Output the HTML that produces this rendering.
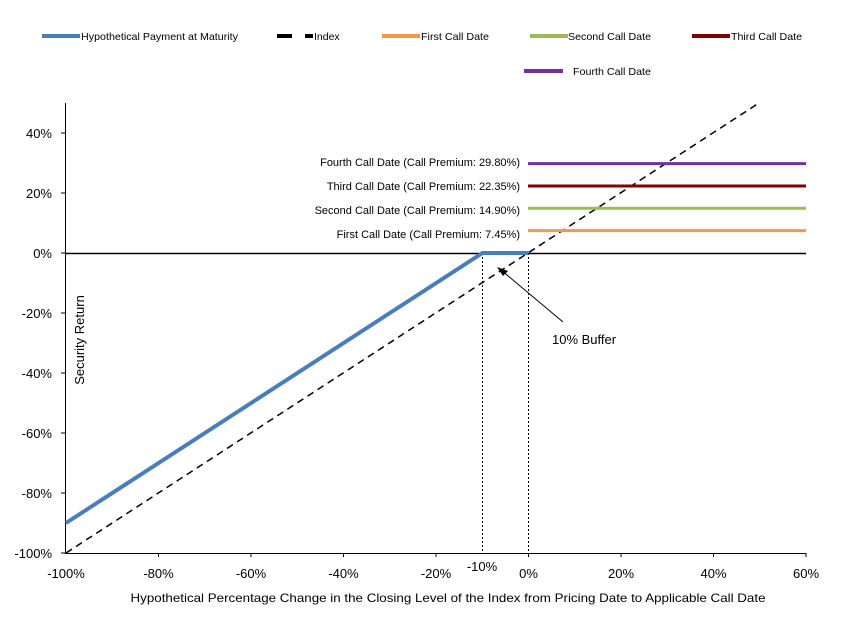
<!DOCTYPE html>
<html><head><meta charset="utf-8"><style>html,body{margin:0;padding:0;background:#fff}svg{display:block}</style></head>
<body>
<svg width="845" height="623" viewBox="0 0 845 623" xmlns="http://www.w3.org/2000/svg" font-family="Liberation Sans, Arial, sans-serif">
<!-- legend -->
<g font-size="10.5" fill="#000">
<line x1="42" y1="36" x2="80" y2="36" stroke="#4a7ebb" stroke-width="4"/>
<text x="81" y="40" textLength="157" lengthAdjust="spacingAndGlyphs">Hypothetical Payment at Maturity</text>
<line x1="277" y1="36" x2="292" y2="36" stroke="#000" stroke-width="4"/>
<line x1="305" y1="36" x2="313" y2="36" stroke="#000" stroke-width="4"/>
<text x="314" y="40">Index</text>
<line x1="382" y1="36" x2="420" y2="36" stroke="#f79646" stroke-width="4"/>
<text x="421" y="40" textLength="68" lengthAdjust="spacingAndGlyphs">First Call Date</text>
<line x1="530" y1="36" x2="568" y2="36" stroke="#9bbb59" stroke-width="4"/>
<text x="568" y="40" textLength="83" lengthAdjust="spacingAndGlyphs">Second Call Date</text>
<line x1="692" y1="36" x2="730" y2="36" stroke="#7f0000" stroke-width="4"/>
<text x="731" y="40" textLength="71" lengthAdjust="spacingAndGlyphs">Third Call Date</text>
<line x1="524" y1="71" x2="563" y2="71" stroke="#7030a0" stroke-width="4"/>
<text x="573" y="75" textLength="78" lengthAdjust="spacingAndGlyphs">Fourth Call Date</text>
</g>
<!-- axes -->
<line x1="65.5" y1="103" x2="65.5" y2="553" stroke="#000" stroke-width="1"/>
<line x1="65" y1="553.5" x2="806" y2="553.5" stroke="#000" stroke-width="1"/>
<line x1="65" y1="253.5" x2="806" y2="253.5" stroke="#000" stroke-width="1.5"/>
<g stroke="#000">
<line x1="61" y1="133" x2="65" y2="133"/><line x1="61" y1="193" x2="65" y2="193"/><line x1="61" y1="253" x2="65" y2="253"/>
<line x1="61" y1="313" x2="65" y2="313"/><line x1="61" y1="373" x2="65" y2="373"/><line x1="61" y1="433" x2="65" y2="433"/>
<line x1="61" y1="493" x2="65" y2="493"/><line x1="61" y1="553" x2="65" y2="553"/>
<line x1="158.5" y1="553" x2="158.5" y2="557"/><line x1="251" y1="553" x2="251" y2="557"/><line x1="343.5" y1="553" x2="343.5" y2="557"/><line x1="436" y1="553" x2="436" y2="557"/><line x1="528.5" y1="553" x2="528.5" y2="557"/><line x1="621" y1="553" x2="621" y2="557"/><line x1="713.5" y1="553" x2="713.5" y2="557"/><line x1="806" y1="553" x2="806" y2="557"/>
</g>
<g font-size="13" text-anchor="end">
<text x="52" y="138">40%</text><text x="52" y="198">20%</text><text x="52" y="258">0%</text>
<text x="52" y="318">-20%</text><text x="52" y="378">-40%</text><text x="52" y="438">-60%</text>
<text x="52" y="498">-80%</text><text x="52" y="558">-100%</text>
</g>
<g font-size="13" text-anchor="middle">
<text x="66" y="578">-100%</text><text x="158.5" y="578">-80%</text><text x="251" y="578">-60%</text><text x="343.5" y="578">-40%</text><text x="436" y="578">-20%</text><text x="482" y="571">-10%</text><text x="528.5" y="578">0%</text><text x="621" y="578">20%</text><text x="713.5" y="578">40%</text><text x="806" y="578">60%</text>
</g>
<text x="448" y="602" font-size="12" text-anchor="middle" textLength="635" lengthAdjust="spacingAndGlyphs">Hypothetical Percentage Change in the Closing Level of the Index from Pricing Date to Applicable Call Date</text>
<text transform="translate(84,340) rotate(-90)" font-size="13" text-anchor="middle">Security Return</text>
<!-- dotted verticals -->
<line x1="482.5" y1="253" x2="482.5" y2="553" stroke="#000" stroke-dasharray="2,2"/>
<line x1="528.5" y1="253" x2="528.5" y2="553" stroke="#000" stroke-dasharray="2,2"/>
<!-- index dashed -->
<line x1="66" y1="553" x2="759" y2="103" stroke="#000" stroke-width="1.5" stroke-dasharray="7,5"/>
<!-- payment -->
<polyline points="66,523 482.5,253 528.5,253" fill="none" stroke="#4a7ebb" stroke-width="4"/>
<!-- call lines -->
<line x1="528" y1="230.6" x2="806" y2="230.6" stroke="#f79646" stroke-width="3"/>
<line x1="528" y1="208.3" x2="806" y2="208.3" stroke="#9bbb59" stroke-width="3"/>
<line x1="528" y1="186" x2="806" y2="186" stroke="#7f0000" stroke-width="3"/>
<line x1="528" y1="163.6" x2="806" y2="163.6" stroke="#7030a0" stroke-width="3"/>
<g font-size="11" text-anchor="end">
<text x="520" y="238">First Call Date (Call Premium: 7.45%)</text>
<text x="520" y="214">Second Call Date (Call Premium: 14.90%)</text>
<text x="520" y="190">Third Call Date (Call Premium: 22.35%)</text>
<text x="520" y="166">Fourth Call Date (Call Premium: 29.80%)</text>
</g>
<!-- arrow -->
<line x1="563" y1="322" x2="501" y2="270" stroke="#000" stroke-width="1"/>
<polygon points="497,267 508,271 503,276" fill="#000"/>
<text x="552" y="344" font-size="13">10% Buffer</text>
</svg>
</body></html>
